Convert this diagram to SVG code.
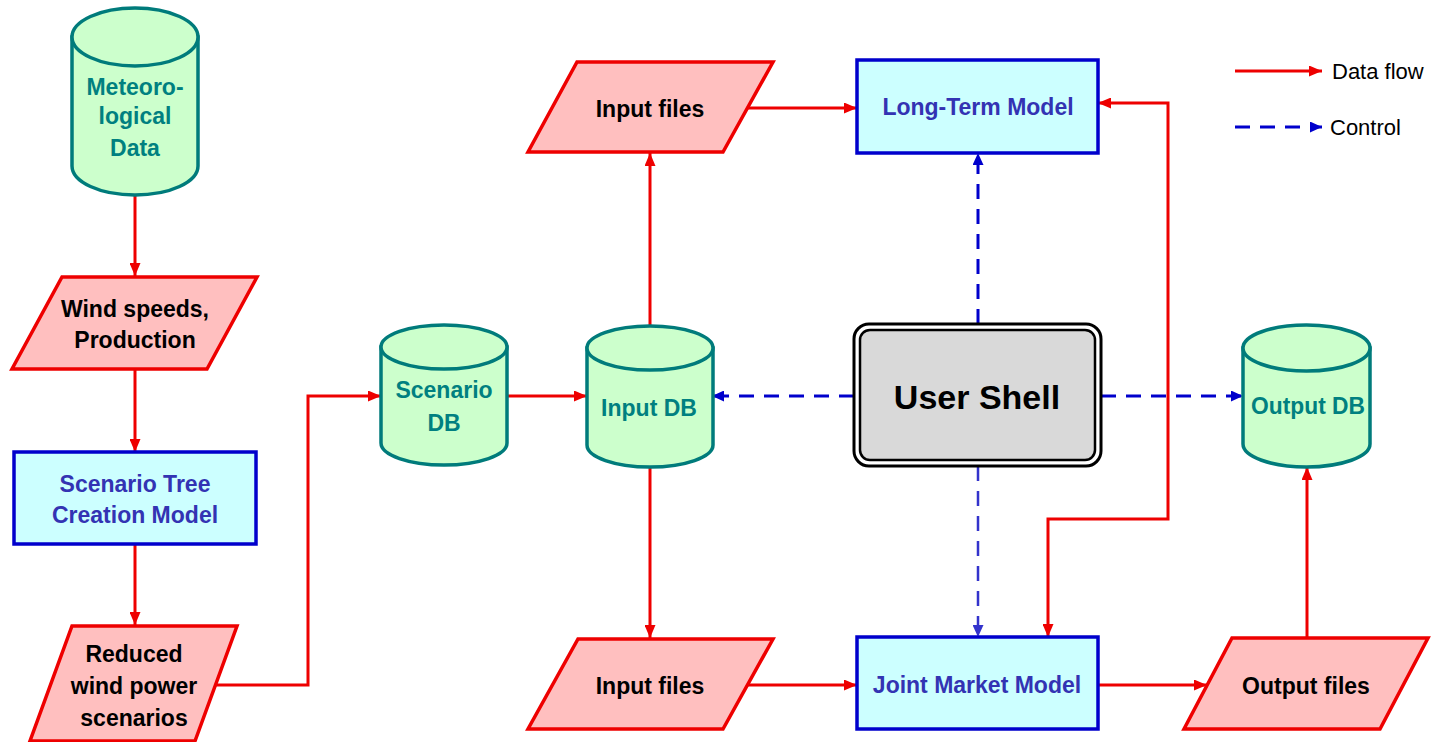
<svg xmlns="http://www.w3.org/2000/svg" width="1431" height="742" viewBox="0 0 1431 742">
  <style>
    .t { font-family: "Liberation Sans", Arial, sans-serif; font-weight: bold; font-size: 23px; text-anchor: middle; }
    .db path, .db ellipse { fill: #ccffcc; stroke: #007b7b; stroke-width: 3.5; }
    .db text { fill: #008080; }
    .file polygon { fill: #ffbfbf; stroke: #ee0000; stroke-width: 3.5; stroke-linejoin: miter; }
    .file text { fill: #000; }
    .model rect { fill: #ccffff; stroke: #0000cc; stroke-width: 3.5; }
    .model text { fill: #3333b3; }
    .data { fill: none; stroke: #ee0000; stroke-width: 3; }
    .ctrl { fill: none; stroke: #0000cc; stroke-width: 3; stroke-dasharray: 15 10; }
    .ctrl.thin { stroke: #3333cc; stroke-width: 2.5; }
    .leg { font-family: "Liberation Sans", Arial, sans-serif; font-size: 22px; fill: #000; }
  </style>
  <defs>
    <marker id="ar" markerUnits="userSpaceOnUse" markerWidth="13" markerHeight="11" refX="13" refY="5.5" orient="auto-start-reverse">
      <path d="M0,0 L13,5.5 L0,11 z" fill="#ee0000"/>
    </marker>
    <marker id="ab" markerUnits="userSpaceOnUse" markerWidth="12" markerHeight="11" refX="12" refY="5.5" orient="auto">
      <path d="M0,0 L12,5.5 L0,11 z" fill="#0000cc"/>
    </marker>
    <marker id="ab2" markerUnits="userSpaceOnUse" markerWidth="12" markerHeight="11" refX="12" refY="5.5" orient="auto">
      <path d="M0,0 L12,5.5 L0,11 z" fill="#3333cc"/>
    </marker>
  </defs>
  <rect width="1431" height="742" fill="#fff"/>

  <!-- connectors -->
  <g id="connectors">
    <line class="data" x1="135" y1="195" x2="135" y2="276" marker-end="url(#ar)"/>
    <line class="data" x1="135" y1="369" x2="135" y2="452" marker-end="url(#ar)"/>
    <line class="data" x1="135" y1="544" x2="135" y2="625" marker-end="url(#ar)"/>
    <path class="data" d="M216,685 L308,685 L308,396 L381,396" marker-end="url(#ar)"/>
    <line class="data" x1="507" y1="396" x2="587" y2="396" marker-end="url(#ar)"/>
    <line class="data" x1="650" y1="326" x2="650" y2="153" marker-end="url(#ar)"/>
    <line class="data" x1="650" y1="467" x2="650" y2="638" marker-end="url(#ar)"/>
    <line class="data" x1="748" y1="108" x2="857" y2="108" marker-end="url(#ar)"/>
    <line class="data" x1="748" y1="685" x2="857" y2="685" marker-end="url(#ar)"/>
    <line class="data" x1="1098" y1="685" x2="1207" y2="685" marker-end="url(#ar)"/>
    <line class="data" x1="1307" y1="638" x2="1307" y2="467" marker-end="url(#ar)"/>
    <path class="data" d="M1098,103 L1168,103 L1168,519 L1048,519 L1048,637" marker-start="url(#ar)" marker-end="url(#ar)"/>
    <line class="ctrl" x1="854" y1="396" x2="712" y2="396" marker-end="url(#ab)"/>
    <line class="ctrl" x1="1101" y1="396" x2="1243" y2="396" marker-end="url(#ab)"/>
    <line class="ctrl" x1="978" y1="324" x2="978" y2="153" marker-end="url(#ab)"/>
    <line class="ctrl thin" x1="978" y1="466" x2="978" y2="637" marker-end="url(#ab2)"/>
  </g>

  <!-- databases -->
  <g id="meteo" class="db">
    <path d="M72,37 L72,166 A63,29 0 0 0 198,166 L198,37 Z"/>
    <ellipse cx="135" cy="37" rx="63" ry="29"/>
    <text class="t" x="135" y="95">Meteoro-</text>
    <text class="t" x="135" y="124">logical</text>
    <text class="t" x="135" y="156">Data</text>
  </g>
  <g id="scenario-db" class="db">
    <path d="M381,347 L381,443 A63,22 0 0 0 507,443 L507,347 Z"/>
    <ellipse cx="444" cy="347" rx="63" ry="22"/>
    <text class="t" x="444" y="398">Scenario</text>
    <text class="t" x="444" y="431">DB</text>
  </g>
  <g id="input-db" class="db">
    <path d="M587,348 L587,445 A63,22 0 0 0 713,445 L713,348 Z"/>
    <ellipse cx="650" cy="348" rx="63" ry="22"/>
    <text class="t" x="649" y="416">Input DB</text>
  </g>
  <g id="output-db" class="db">
    <path d="M1243,348 L1243,444 A63.5,23 0 0 0 1370,444 L1370,348 Z"/>
    <ellipse cx="1306.5" cy="348" rx="63.5" ry="23"/>
    <text class="t" x="1308" y="414" textLength="114" lengthAdjust="spacingAndGlyphs">Output DB</text>
  </g>

  <!-- files -->
  <g id="wind" class="file">
    <polygon points="62,277 257,277 207,369 12,369"/>
    <text class="t" x="135" y="317">Wind speeds,</text>
    <text class="t" x="135" y="348">Production</text>
  </g>
  <g id="reduced" class="file">
    <polygon points="72,626 237,626 195,741 30,741"/>
    <text class="t" x="134" y="662">Reduced</text>
    <text class="t" x="134" y="694">wind power</text>
    <text class="t" x="134" y="726">scenarios</text>
  </g>
  <g id="input-files-top" class="file">
    <polygon points="577,62 773,62 723,152 528,152"/>
    <text class="t" x="650" y="117">Input files</text>
  </g>
  <g id="input-files-bottom" class="file">
    <polygon points="578,639 773,639 723,729 528,729"/>
    <text class="t" x="650" y="694">Input files</text>
  </g>
  <g id="output-files" class="file">
    <polygon points="1232,638 1428,638 1380,729 1184,729"/>
    <text class="t" x="1306" y="694">Output files</text>
  </g>

  <!-- models -->
  <g id="scenario-tree" class="model">
    <rect x="14" y="452" width="242" height="92"/>
    <text class="t" x="135" y="492">Scenario Tree</text>
    <text class="t" x="135" y="523">Creation Model</text>
  </g>
  <g id="long-term" class="model">
    <rect x="857" y="60" width="241" height="93"/>
    <text class="t" x="978" y="115">Long-Term Model</text>
  </g>
  <g id="joint-market" class="model">
    <rect x="857" y="637" width="241" height="92"/>
    <text class="t" x="977" y="693">Joint Market Model</text>
  </g>

  <!-- user shell -->
  <g id="user-shell">
    <rect x="854" y="324" width="247" height="142" rx="15" fill="#fff" stroke="#000" stroke-width="3"/>
    <rect x="860" y="330" width="235" height="130" rx="10" fill="#d9d9d9" stroke="#000" stroke-width="2.5"/>
    <text class="t" x="977" y="409" style="font-size:34px" fill="#000">User Shell</text>
  </g>

  <!-- legend -->
  <g id="legend">
    <line class="data" x1="1235" y1="71" x2="1322" y2="71" marker-end="url(#ar)"/>
    <text class="leg" x="1332" y="79">Data flow</text>
    <line class="ctrl" x1="1235" y1="127" x2="1322" y2="127" marker-end="url(#ab)"/>
    <text class="leg" x="1330" y="135">Control</text>
  </g>
</svg>
